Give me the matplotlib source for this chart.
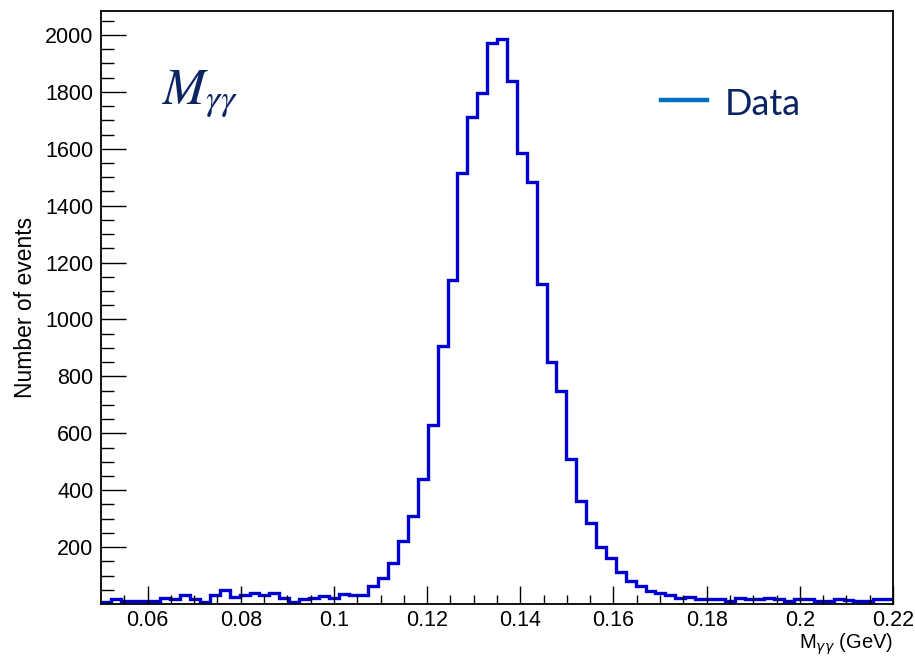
import numpy as np
import matplotlib
matplotlib.use("Agg")
import matplotlib.pyplot as plt
from matplotlib.lines import Line2D

# ---- data ----
x_lo, x_hi, n_bins = 0.05, 0.22, 80
counts = [8, 18, 10, 10, 10, 10, 22, 16, 30, 16,
          8, 30, 48, 25, 30, 37, 30, 37, 22, 6,
          16, 22, 28, 20, 34, 30, 30, 62, 90, 145,
          222, 310, 438, 628, 907, 1139, 1514, 1711, 1795, 1973,
          1985, 1839, 1584, 1482, 1125, 852, 750, 508, 361, 285,
          201, 162, 114, 82, 65, 44, 39, 31, 22, 25,
          18, 16, 16, 10, 22, 18, 16, 20, 16, 10,
          18, 16, 10, 10, 16, 13, 10, 10, 16, 16]
x_ticks = [0.06, 0.08, 0.10, 0.12, 0.14, 0.16, 0.18, 0.20, 0.22]
x_tick_labels = ["0.06", "0.08", "0.1", "0.12", "0.14", "0.16", "0.18", "0.2", "0.22"]
y_ticks = [200, 400, 600, 800, 1000, 1200, 1400, 1600, 1800, 2000]
y_tick_labels = [str(v) for v in y_ticks]
x_title = r"M$_{\gamma\gamma}$ (GeV)"
y_title = "Number of events"
legend_label = "Data"
annot = r"$M_{\gamma\gamma}$"

edges = np.linspace(x_lo, x_hi, n_bins + 1)

plt.rcParams['font.family'] = ['Liberation Sans', 'DejaVu Sans']
plt.rcParams['mathtext.fontset'] = 'dejavusans'

W, H = 915, 657
fig = plt.figure(figsize=(W / 100, H / 100), dpi=100)
ax = fig.add_axes([101 / W, 1 - 604 / H, (893 - 101) / W, (604 - 11) / H])

ax.stairs(counts, edges, color='#0000d0', lw=2.4, baseline=None)

ax.set_xlim(x_lo, x_hi)
ax.set_ylim(0, 1.05 * max(counts))

ax.set_xticks(x_ticks)
ax.set_xticklabels(x_tick_labels)
ax.set_xticks(np.arange(0.055, 0.2201, 0.005), minor=True)
ax.set_yticks(y_ticks)
ax.set_yticklabels(y_tick_labels)
ax.set_yticks(np.arange(50, 2084, 50), minor=True)

ax.tick_params(axis='x', which='major', direction='in', length=13, width=1.0,
               labelsize=15.5, pad=4.5, top=False)
ax.tick_params(axis='x', which='minor', direction='in', length=6.5, width=1.0, top=False)
ax.tick_params(axis='y', which='major', direction='in', length=18, width=1.0,
               labelsize=15.5, pad=5.5, right=False)
ax.tick_params(axis='y', which='minor', direction='in', length=9, width=1.0, right=False)

for s in ax.spines.values():
    s.set_linewidth(1.3)
    s.set_color('black')

# axis titles
fig.text(893 / W, 1 - 649 / H, x_title, ha='right', va='baseline', fontsize=14.5)
fig.text(26 / W, 1 - 307 / H, y_title, ha='center', va='center', rotation=90, fontsize=16.5)

# annotation
fig.text(162 / W, 1 - 104 / H, annot, ha='left', va='baseline', fontsize=37,
         color='#0b2463', math_fontfamily='stix')

# legend
fig.add_artist(Line2D([661 / W, 707 / W], [1 - 100 / H, 1 - 100 / H],
                      transform=fig.transFigure, color='#0070C0', lw=3.2))
fig.text(725 / W, 1 - 115 / H, legend_label, ha='left', va='baseline', fontsize=26,
         color='#0b2463', family=['Lato', 'DejaVu Sans'])

fig.savefig("out.png", dpi=100)
